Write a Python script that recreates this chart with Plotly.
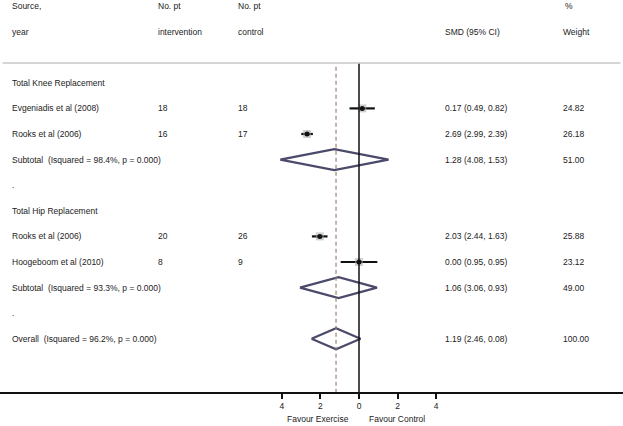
import plotly.graph_objects as go

# ---------------- data ----------------
studies = ["Evgeniadis et al (2008)", "Rooks et al (2006)", "Rooks et al (2006)", "Hoogeboom et al (2010)"]
n_intervention = [18, 16, 20, 8]
n_control = [18, 17, 26, 9]
smd = [0.17, -2.69, -2.03, 0.00]
ci_low = [-0.49, -2.99, -2.44, -0.95]
ci_high = [0.82, -2.39, -1.63, 0.95]
weights = [24.82, 26.18, 25.88, 23.12]
study_rows = [4, 5, 9, 10]

pooled_labels = ["Subtotal\u00a0\u00a0(Isquared = 98.4%, p = 0.000)",
                 "Subtotal\u00a0\u00a0(Isquared = 93.3%, p = 0.000)",
                 "Overall\u00a0\u00a0(Isquared = 96.2%, p = 0.000)"]
pooled_smd = [-1.28, -1.06, -1.19]
pooled_low = [-4.08, -3.06, -2.46]
pooled_high = [1.53, 0.93, 0.08]
pooled_weight = [51.00, 49.00, 100.00]
pooled_rows = [6, 11, 13]

group_labels = ["Total Knee Replacement", "Total Hip Replacement"]
group_rows = [3, 8]
spacer_rows = [7, 12]

tick_vals = [-4, -2, 0, 2, 4]
tick_text = ["4", "2", "0", "2", "4"]

# ---------------- layout constants ----------------
W, H = 623, 426
PX0, PXU = 359.0, 19.3           # pixel of x=0 and pixels per unit
ROW0, ROWH = 6.0, 25.6           # pixel of row 0 and row height
PLOT_BOTTOM = 392.0
xr = [-PX0 / PXU, (W - PX0) / PXU]
yr = [(PLOT_BOTTOM - ROW0) / ROWH, (0 - ROW0) / ROWH]
FONT = "Liberation Sans, Arial, sans-serif"
FS = 8.5
TXT = "#222222"
DIAM = "#4b4a6b"

col_source, col_int, col_ctl, col_smd, col_w = 10, 156, 236, 443, 561

def px(p):
    return p / W

fig = go.Figure()

# reference lines
header_row = (63 - ROW0) / ROWH
fig.add_shape(type="line", xref="paper", yref="y", x0=0.004, x1=0.996, y0=header_row, y1=header_row,
              line=dict(color="#c8c8c8", width=1.5))
fig.add_shape(type="line", xref="x", yref="y", x0=0, x1=0, y0=header_row + 0.03, y1=yr[0],
              line=dict(color="#111111", width=1.5))
fig.add_shape(type="line", xref="x", yref="y", x0=pooled_smd[2], x1=pooled_smd[2], y0=header_row + 0.15, y1=yr[0],
              line=dict(color="#a57f78", width=1.2, dash="4px,3px"))

# study CIs and point estimates
for i in range(len(studies)):
    fig.add_trace(go.Scatter(x=[ci_low[i], ci_high[i]], y=[study_rows[i]] * 2, mode="lines",
                             line=dict(color="#111111", width=2.2), showlegend=False, hoverinfo="skip"))
fig.add_trace(go.Scatter(x=smd, y=study_rows, mode="markers",
                         marker=dict(symbol="square", size=8, color="rgba(170,170,170,0.55)"),
                         showlegend=False, hoverinfo="skip"))
fig.add_trace(go.Scatter(x=smd, y=study_rows, mode="markers",
                         marker=dict(symbol="circle", size=5, color="#111111"),
                         showlegend=False, hoverinfo="skip"))

# diamonds
hh = 0.41
for i in range(len(pooled_smd)):
    r = pooled_rows[i]
    fig.add_trace(go.Scatter(x=[pooled_low[i], pooled_smd[i], pooled_high[i], pooled_smd[i], pooled_low[i]],
                             y=[r, r - hh, r, r + hh, r], mode="lines",
                             line=dict(color=DIAM, width=2.2), showlegend=False, hoverinfo="skip"))

# text
def txt(x, row, s):
    fig.add_annotation(x=px(x), xref="paper", y=row, yref="y", text=s, showarrow=False,
                       xanchor="left", yanchor="middle", font=dict(family=FONT, size=FS, color=TXT))

txt(col_source, 0, "Source,")
txt(col_source, 1, "year")
txt(col_int, 0, "No. pt")
txt(col_int, 1, "intervention")
txt(col_ctl, 0, "No. pt")
txt(col_ctl, 1, "control")
txt(col_smd, 1, "SMD (95% CI)")
txt(col_w + 2, 0, "%")
txt(col_w, 1, "Weight")

for g, r in zip(group_labels, group_rows):
    txt(col_source, r, g)
for r in spacer_rows:
    txt(col_source, r, ".")

def fmt(v, l, h):
    return f"{abs(v):.2f} ({abs(l):.2f}, {abs(h):.2f})"

for i in range(len(studies)):
    r = study_rows[i]
    txt(col_source, r, studies[i])
    txt(col_int, r, str(n_intervention[i]))
    txt(col_ctl, r, str(n_control[i]))
    txt(col_smd, r, fmt(smd[i], ci_low[i], ci_high[i]))
    txt(col_w, r, f"{weights[i]:.2f}")

for i in range(len(pooled_smd)):
    r = pooled_rows[i]
    txt(col_source, r, pooled_labels[i])
    txt(col_smd, r, fmt(pooled_smd[i], pooled_low[i], pooled_high[i]))
    txt(col_w, r, f"{pooled_weight[i]:.2f}")

for s, cx in [("Favour Exercise", 318), ("Favour Control", 397)]:
    fig.add_annotation(x=px(cx), xref="paper", y=-(419 - PLOT_BOTTOM) / PLOT_BOTTOM, yref="paper", text=s,
                       showarrow=False, xanchor="center", yanchor="middle",
                       font=dict(family=FONT, size=FS, color=TXT))

fig.update_layout(
    width=W, height=H,
    margin=dict(l=0, r=0, t=0, b=H - PLOT_BOTTOM),
    paper_bgcolor="white", plot_bgcolor="white",
    xaxis=dict(range=xr, showgrid=False, zeroline=False, showline=True, linecolor="#111111", linewidth=1.5,
               ticks="outside", ticklen=5, tickwidth=1.5, tickcolor="#111111",
               tickvals=tick_vals, ticktext=tick_text,
               tickfont=dict(family=FONT, size=FS, color=TXT), fixedrange=True),
    yaxis=dict(range=yr, visible=False, fixedrange=True),
    showlegend=False,
)

fig.write_html("out.html", config={"displayModeBar": False},
               post_script="document.body.style.margin='0';document.body.style.overflow='hidden';")
